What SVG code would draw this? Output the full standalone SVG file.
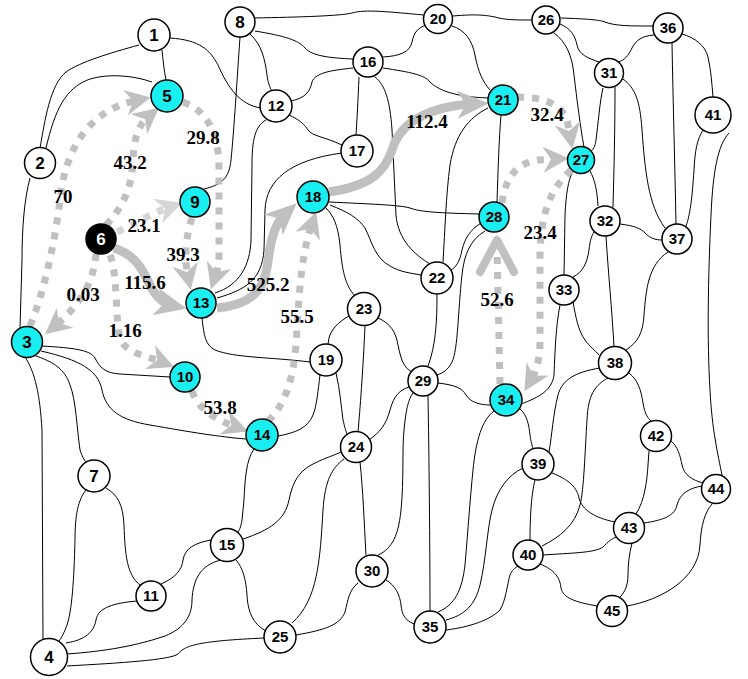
<svg xmlns="http://www.w3.org/2000/svg" width="748" height="679" viewBox="0 0 748 679">
<defs>
<style>
.e{fill:none;stroke:#000;stroke-width:1}
.d{fill:none;stroke:#c0c0c0;stroke-width:7;stroke-dasharray:7 8}
.dl{stroke:#d6d6d6}
.s{fill:none;stroke:#c0c0c0;stroke-width:9}
.n circle{fill:#fff;stroke:#000;stroke-width:1.5}
.c circle{fill:#19eef0}
.k circle{fill:#000}
.k text{fill:#fff}
.n text{font-family:"Liberation Sans",Arial,sans-serif;font-weight:bold;font-size:15px;text-anchor:middle}
.b text{font-size:17px}
.lbl{font-family:"Liberation Serif","Times New Roman",serif;font-weight:bold;font-size:19px;text-anchor:middle}
</style>
<marker id="ad" markerUnits="userSpaceOnUse" markerWidth="26" markerHeight="26" viewBox="0 0 26 26" refX="13" refY="13" orient="auto"><path d="M0,0 L26,13 L0,26 L8,13 z" fill="#c0c0c0"/></marker>
<marker id="adl" markerUnits="userSpaceOnUse" markerWidth="26" markerHeight="26" viewBox="0 0 26 26" refX="13" refY="13" orient="auto"><path d="M0,0 L26,13 L0,26 L8,13 z" fill="#d6d6d6"/></marker>
<marker id="as" markerUnits="userSpaceOnUse" markerWidth="32" markerHeight="28" viewBox="0 0 32 28" refX="16" refY="14" orient="auto"><path d="M0,0 L32,14 L0,28 L9,14 z" fill="#c0c0c0"/></marker>
</defs>
<rect width="748" height="679" fill="#fff"/>
<g id="connectors">
<path class="e" d="M139,45 C110,53 80,62 66,72 C50,85 45,120 40,148"/>
<path class="e" d="M162,50 C163,60 164,70 166,80"/>
<path class="e" d="M46,148 C55,110 65,88 90,79 C110,73 135,76 152,82"/>
<path class="e" d="M30,178 C24,200 22,230 22,260 L20,328"/>
<path class="e" d="M170,38 C200,40 210,50 218,65 C228,88 240,105 261,108"/>
<path class="e" d="M240,37 C237,80 234,130 231,160 C229,180 220,185 204,189"/>
<path class="e" d="M255,18 C300,17 340,16 352,13 C365,9 390,12 424,15"/>
<path class="e" d="M255,31 C285,36 298,40 305,48 C312,56 330,58 353,59"/>
<path class="e" d="M250,34 C262,45 265,60 267,75 C268,83 270,88 272,91"/>
<path class="e" d="M291,101 C305,98 310,92 312,82 C315,72 335,70 353,68"/>
<path class="e" d="M289,115 C300,120 305,125 308,130 C312,136 325,137 342,145"/>
<path class="e" d="M266,120 C255,126 252,140 252,165 L251,240 C250,265 240,285 215,293"/>
<path class="e" d="M217,298 C245,290 262,280 264,250 L265,210 C266,180 290,160 342,153"/>
<path class="e" d="M359,77 C358,100 357,120 356,135"/>
<path class="e" d="M383,57 C400,56 410,52 412,42 C414,32 418,28 426,25"/>
<path class="e" d="M383,68 C410,72 425,75 430,82 C440,92 460,97 488,98"/>
<path class="e" d="M375,77 C385,85 390,100 392,130 L396,215 C398,240 415,255 430,264"/>
<path class="e" d="M488,108 C468,118 455,135 450,165 C446,195 445,230 443,262"/>
<path class="e" d="M481,223 C470,230 465,238 462,250 C460,262 455,268 451,270"/>
<path class="e" d="M485,231 C470,240 464,255 462,275 C458,310 458,350 452,362 C448,370 443,373 437,375"/>
<path class="e" d="M329,202 C370,204 400,205 410,208 C420,212 440,213 479,214"/>
<path class="e" d="M330,205 C348,212 358,218 365,228 C372,242 375,258 390,266 C400,272 410,273 421,275"/>
<path class="e" d="M326,208 C333,215 338,225 340,245 C342,270 345,285 355,296"/>
<path class="e" d="M202,318 C204,335 205,345 215,350 C235,358 270,357 310,362"/>
<path class="e" d="M42,346 C75,348 90,350 95,358 C100,368 105,373 120,374 L170,377"/>
<path class="e" d="M41,351 C80,360 98,370 102,390 C106,410 120,420 150,425 C190,432 220,437 246,439"/>
<path class="e" d="M33,355 C55,362 65,370 70,385 C76,400 77,430 80,450 C82,456 84,460 86,462"/>
<path class="e" d="M25,357 C35,372 40,395 42,430 L43,639"/>
<path class="e" d="M86,490 C78,500 75,515 75,540 C74,580 72,610 67,625 C64,633 62,637 59,641"/>
<path class="e" d="M106,488 C118,495 123,505 124,525 C125,555 127,575 140,585"/>
<path class="e" d="M137,601 C115,603 98,607 96,620 C94,632 85,640 66,643"/>
<path class="e" d="M161,584 C175,578 182,570 183,560 C185,548 195,543 211,540"/>
<path class="e" d="M221,560 C200,565 193,580 192,600 C192,615 185,628 165,636 C130,648 95,652 67,654"/>
<path class="e" d="M67,666 C120,663 170,660 178,654 C185,645 200,641 264,638"/>
<path class="e" d="M236,560 C243,568 246,580 247,595 C248,615 255,625 266,631"/>
<path class="e" d="M254,449 C246,460 245,480 244,500 L242,520 C241,526 240,529 238,532"/>
<path class="e" d="M243,539 C270,530 285,520 289,500 C293,480 300,470 315,463 C325,458 335,455 341,452"/>
<path class="e" d="M344,459 C332,468 325,480 323,510 C320,560 318,600 292,623"/>
<path class="e" d="M360,462 C363,490 364,520 366,555"/>
<path class="e" d="M369,440 C380,432 386,425 390,410 C394,395 400,390 409,387"/>
<path class="e" d="M296,635 C325,630 340,625 345,612 C348,600 349,590 358,583"/>
<path class="e" d="M386,580 C395,585 400,595 401,605 C402,615 405,620 414,624"/>
<path class="e" d="M376,556 C390,550 398,540 401,510 C404,480 402,450 404,430 C406,410 408,400 413,393"/>
<path class="e" d="M428,396 C429,450 430,550 430,611"/>
<path class="e" d="M438,612 C455,605 462,590 465,565 C468,530 470,500 473,470 C476,440 482,420 494,411"/>
<path class="e" d="M446,620 C465,615 475,605 480,585 C486,560 487,530 492,510 C497,490 508,475 523,468"/>
<path class="e" d="M446,630 C470,627 490,620 500,610 C506,600 507,585 510,575 C512,570 515,568 518,566"/>
<path class="e" d="M520,409 C527,415 529,425 530,435 C531,442 532,445 533,449"/>
<path class="e" d="M600,368 C575,372 562,380 558,395 C553,415 552,435 549,452"/>
<path class="e" d="M608,378 C595,385 588,395 587,420 C585,450 584,490 580,505 C575,525 560,537 542,546"/>
<path class="e" d="M535,480 C531,495 530,520 530,540"/>
<path class="e" d="M552,473 C570,480 577,488 579,498 C582,510 595,518 615,522"/>
<path class="e" d="M543,555 C570,553 595,553 603,547 C608,542 612,538 617,537"/>
<path class="e" d="M540,564 C555,570 560,578 561,588 C563,598 575,602 597,606"/>
<path class="e" d="M636,514 C645,500 647,480 648,465 L649,451"/>
<path class="e" d="M644,523 C665,520 675,515 677,505 C680,493 690,488 702,486"/>
<path class="e" d="M632,543 C629,555 628,565 628,575 C628,585 625,592 620,597"/>
<path class="e" d="M712,504 C705,512 701,525 700,545 C698,580 660,600 627,606"/>
<path class="e" d="M671,441 C678,447 680,455 682,465 C684,475 692,480 703,483"/>
<path class="e" d="M629,373 C638,380 641,390 643,403 C645,415 648,418 651,421"/>
<path class="e" d="M626,350 C638,342 643,333 644,315 C646,290 648,265 668,252"/>
<path class="e" d="M606,236 C608,270 612,310 614,347"/>
<path class="e" d="M620,224 C635,226 640,228 645,233 C650,238 655,240 662,240"/>
<path class="e" d="M573,277 C583,272 587,263 589,250 C590,240 592,235 594,232"/>
<path class="e" d="M573,302 C576,318 578,330 585,340 C590,347 595,350 599,355"/>
<path class="e" d="M560,305 C556,325 555,350 554,375 C552,390 540,397 521,404"/>
<path class="e" d="M573,171 C568,180 566,195 565,215 L564,275"/>
<path class="e" d="M590,171 C595,180 597,190 598,206"/>
<path class="e" d="M554,33 C566,42 572,55 574,75 C577,100 580,125 584,147"/>
<path class="e" d="M560,24 C570,28 575,35 577,45 C579,55 588,58 599,62"/>
<path class="e" d="M654,35 C642,36 636,40 632,48 C628,56 625,60 618,62"/>
<path class="e" d="M561,18 C590,19 600,20 605,22 C615,26 630,26 653,26"/>
<path class="e" d="M453,16 C475,14 485,15 495,17 C505,20 515,20 532,20"/>
<path class="e" d="M452,26 C465,30 472,40 475,55 C478,72 483,82 490,90"/>
<path class="e" d="M603,88 C600,100 598,125 596,140 C595,147 593,150 591,151"/>
<path class="e" d="M615,87 C615,130 614,170 613,207"/>
<path class="e" d="M623,79 C635,88 640,100 642,130 C645,170 648,205 665,228"/>
<path class="e" d="M672,43 C673,100 675,170 676,224"/>
<path class="e" d="M682,34 C695,38 705,45 708,57 C711,70 712,85 713,97"/>
<path class="e" d="M703,130 C697,140 695,150 694,170 C692,200 690,215 686,226"/>
<path class="e" d="M729,133 C718,145 713,170 711,215 C708,280 707,340 710,390 C712,430 718,455 722,475"/>
<path class="e" d="M437,294 C437,320 436,345 428,366"/>
<path class="e" d="M378,318 C390,323 396,332 398,345 C401,360 404,368 412,372"/>
<path class="e" d="M365,326 C363,370 360,410 358,432"/>
<path class="e" d="M349,316 C338,322 331,330 329,338 L328,344"/>
<path class="e" d="M336,373 C340,390 341,405 343,420 C345,428 346,432 347,434"/>
<path class="e" d="M320,375 C318,390 317,405 313,415 C308,428 295,433 278,436"/>
<path class="e" d="M438,383 C455,385 462,388 466,395 C470,402 480,405 490,405"/>
<path class="e" d="M501,115 C499,140 498,170 497,202"/>
<path class="d" marker-end="url(#ad)" d="M30,326 C45,290 55,240 60,200 C65,150 88,110 138,100"/>
<path class="d" marker-end="url(#ad)" d="M106,225 C125,205 132,185 133,160 C134,138 138,125 149,116"/>
<path class="d dl" marker-end="url(#adl)" d="M117,232 C135,224 150,214 170,207"/>
<path class="d" marker-end="url(#ad)" d="M183,102 C205,110 218,130 219,165 L219,255 C219,265 217,271 215,277"/>
<path class="d" marker-end="url(#ad)" d="M192,218 C186,235 184,258 188,277"/>
<path class="s" marker-end="url(#as)" d="M114,248 C135,255 142,268 150,285 C156,297 162,303 171,305"/>
<path class="s" marker-end="url(#as)" d="M217,308 C248,305 263,293 267,268 C270,245 273,225 285,214"/>
<path class="s" marker-end="url(#as)" d="M329,192 C370,186 385,172 392,150 C400,122 430,106 473,104"/>
<path class="d" marker-end="url(#ad)" d="M96,254 C94,278 84,302 55,326"/>
<path class="d" marker-end="url(#ad)" d="M110,255 C118,275 115,318 120,338 C126,354 145,355 162,362"/>
<path class="d" marker-end="url(#ad)" d="M192,391 C198,408 212,418 236,427"/>
<path class="d" marker-end="url(#ad)" d="M268,421 C285,405 293,380 296,345 C299,300 300,258 312,224"/>
<path class="d" marker-end="url(#ad)" d="M517,97 C545,97 565,105 568,125 L570,136"/>
<path class="d" marker-end="url(#ad)" d="M502,203 C505,180 515,163 538,160 L556,159"/>
<path class="d" marker-end="url(#ad)" d="M571,170 C550,190 541,212 540,255 L540,340 C540,358 537,370 531,380"/>
<path class="d" d="M500,384 L497,250"/>
<polyline points="480,272 497,240 514,272" fill="none" stroke="#c0c0c0" stroke-width="8" stroke-linecap="round" stroke-linejoin="round"/>
</g>
<g id="edge-labels" class="lbl">
<text x="63" y="203">70</text>
<text x="130" y="169">43.2</text>
<text x="203" y="144">29.8</text>
<text x="144" y="232">23.1</text>
<text x="183" y="261">39.3</text>
<text x="145" y="289">115.6</text>
<text x="83" y="301">0.03</text>
<text x="125" y="337">1.16</text>
<text x="268" y="291">525.2</text>
<text x="297" y="323">55.5</text>
<text x="220" y="414">53.8</text>
<text x="427" y="128">112.4</text>
<text x="547" y="121">32.4</text>
<text x="540" y="239">23.4</text>
<text x="497" y="306">52.6</text>
</g>
<g id="node-1" class="n b"><circle cx="154" cy="35" r="16"/><text x="154" y="35" dy="0.36em">1</text></g>
<g id="node-2" class="n b"><circle cx="40" cy="163" r="15.5"/><text x="40" y="163" dy="0.36em">2</text></g>
<g id="node-3" class="n b c"><circle cx="27" cy="342" r="15.5"/><text x="27" y="342" dy="0.36em">3</text></g>
<g id="node-4" class="n b"><circle cx="49" cy="657" r="18.5"/><text x="49" y="657" dy="0.36em">4</text></g>
<g id="node-5" class="n b c"><circle cx="167" cy="96" r="16"/><text x="167" y="96" dy="0.36em">5</text></g>
<g id="node-6" class="n b k"><circle cx="101" cy="239" r="15"/><text x="101" y="239" dy="0.36em">6</text></g>
<g id="node-7" class="n b"><circle cx="94" cy="476" r="16"/><text x="94" y="476" dy="0.36em">7</text></g>
<g id="node-8" class="n b"><circle cx="240" cy="22" r="15"/><text x="240" y="22" dy="0.36em">8</text></g>
<g id="node-9" class="n b c"><circle cx="195" cy="202" r="15"/><text x="195" y="202" dy="0.36em">9</text></g>
<g id="node-10" class="n c"><circle cx="185" cy="377" r="15"/><text x="185" y="377" dy="0.36em">10</text></g>
<g id="node-11" class="n"><circle cx="151" cy="596" r="15"/><text x="151" y="596" dy="0.36em">11</text></g>
<g id="node-12" class="n"><circle cx="276" cy="106" r="16"/><text x="276" y="106" dy="0.36em">12</text></g>
<g id="node-13" class="n c"><circle cx="201" cy="303" r="15"/><text x="201" y="303" dy="0.36em">13</text></g>
<g id="node-14" class="n c"><circle cx="262" cy="435" r="16"/><text x="262" y="435" dy="0.36em">14</text></g>
<g id="node-15" class="n"><circle cx="227" cy="545" r="16.5"/><text x="227" y="545" dy="0.36em">15</text></g>
<g id="node-16" class="n"><circle cx="368" cy="62" r="15"/><text x="368" y="62" dy="0.36em">16</text></g>
<g id="node-17" class="n"><circle cx="357" cy="151" r="16"/><text x="357" y="151" dy="0.36em">17</text></g>
<g id="node-18" class="n c"><circle cx="313" cy="197" r="16"/><text x="313" y="197" dy="0.36em">18</text></g>
<g id="node-19" class="n"><circle cx="326" cy="360" r="16"/><text x="326" y="360" dy="0.36em">19</text></g>
<g id="node-20" class="n"><circle cx="438" cy="19" r="14.5"/><text x="438" y="19" dy="0.36em">20</text></g>
<g id="node-21" class="n c"><circle cx="503" cy="100" r="15"/><text x="503" y="100" dy="0.36em">21</text></g>
<g id="node-22" class="n"><circle cx="437" cy="278" r="16"/><text x="437" y="278" dy="0.36em">22</text></g>
<g id="node-23" class="n"><circle cx="364" cy="309" r="16.5"/><text x="364" y="309" dy="0.36em">23</text></g>
<g id="node-24" class="n"><circle cx="356" cy="447" r="15.5"/><text x="356" y="447" dy="0.36em">24</text></g>
<g id="node-25" class="n"><circle cx="280" cy="637" r="16"/><text x="280" y="637" dy="0.36em">25</text></g>
<g id="node-26" class="n"><circle cx="546" cy="20" r="14"/><text x="546" y="20" dy="0.36em">26</text></g>
<g id="node-27" class="n c"><circle cx="581" cy="160" r="13.5"/><text x="581" y="160" dy="0.36em">27</text></g>
<g id="node-28" class="n c"><circle cx="494" cy="217" r="15"/><text x="494" y="217" dy="0.36em">28</text></g>
<g id="node-29" class="n"><circle cx="423" cy="381" r="15"/><text x="423" y="381" dy="0.36em">29</text></g>
<g id="node-30" class="n"><circle cx="372" cy="571" r="16"/><text x="372" y="571" dy="0.36em">30</text></g>
<g id="node-31" class="n"><circle cx="609" cy="73" r="14.5"/><text x="609" y="73" dy="0.36em">31</text></g>
<g id="node-32" class="n"><circle cx="605" cy="221" r="15"/><text x="605" y="221" dy="0.36em">32</text></g>
<g id="node-33" class="n"><circle cx="564" cy="290" r="15"/><text x="564" y="290" dy="0.36em">33</text></g>
<g id="node-34" class="n c"><circle cx="506" cy="400" r="16"/><text x="506" y="400" dy="0.36em">34</text></g>
<g id="node-35" class="n"><circle cx="430" cy="627" r="16"/><text x="430" y="627" dy="0.36em">35</text></g>
<g id="node-36" class="n"><circle cx="668" cy="28" r="15"/><text x="668" y="28" dy="0.36em">36</text></g>
<g id="node-37" class="n"><circle cx="677" cy="239" r="15"/><text x="677" y="239" dy="0.36em">37</text></g>
<g id="node-38" class="n"><circle cx="615" cy="363" r="16.5"/><text x="615" y="363" dy="0.36em">38</text></g>
<g id="node-39" class="n"><circle cx="538" cy="464" r="16"/><text x="538" y="464" dy="0.36em">39</text></g>
<g id="node-40" class="n"><circle cx="528" cy="555" r="15"/><text x="528" y="555" dy="0.36em">40</text></g>
<g id="node-41" class="n"><circle cx="713" cy="115" r="18"/><text x="713" y="115" dy="0.36em">41</text></g>
<g id="node-42" class="n"><circle cx="656" cy="436" r="15.5"/><text x="656" y="436" dy="0.36em">42</text></g>
<g id="node-43" class="n"><circle cx="629" cy="528" r="15.5"/><text x="629" y="528" dy="0.36em">43</text></g>
<g id="node-44" class="n"><circle cx="716" cy="489" r="14.5"/><text x="716" y="489" dy="0.36em">44</text></g>
<g id="node-45" class="n"><circle cx="612" cy="611" r="15.5"/><text x="612" y="611" dy="0.36em">45</text></g>
</svg>
